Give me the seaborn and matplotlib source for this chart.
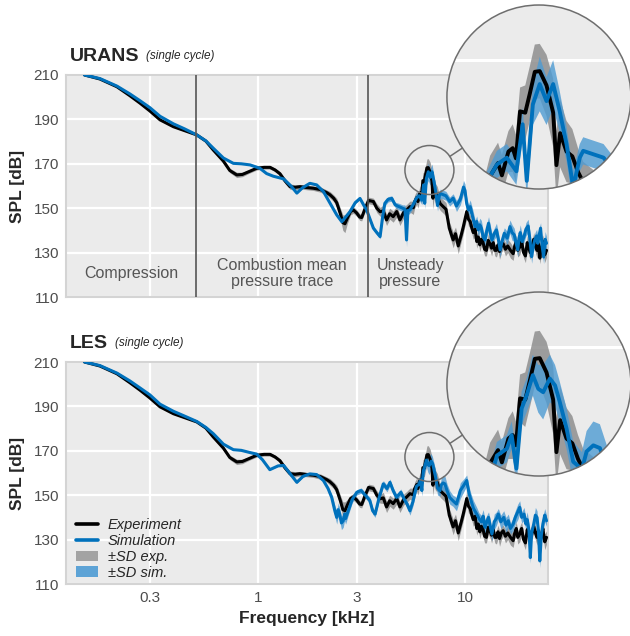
import matplotlib
matplotlib.use("Agg")
import numpy as np
import pandas as pd
import matplotlib.pyplot as plt
import seaborn as sns
from matplotlib.patches import Circle, Ellipse, Patch
from matplotlib.lines import Line2D
from matplotlib.ticker import NullLocator

# ---------------- data ----------------
X_TICKS = [0.3, 1, 3, 10]
X_TICK_LABELS = ["0.3", "1", "3", "10"]
Y_TICKS = [110, 130, 150, 170, 190, 210]

REGION_BOUNDS = [0.5, 3.4]          # kHz, vertical separators (URANS panel)
REGION_LABELS = ["Compression", "Combustion mean\npressure trace", "Unsteady\npressure"]

# Experiment (same measurement in both panels)
exp_freq = [
    0.145, 0.172, 0.208, 0.240, 0.269, 0.300, 0.336, 0.390, 0.440, 0.506,
    0.560, 0.608, 0.680, 0.730, 0.789, 0.840, 0.900, 0.986, 1.070, 1.143,
    1.210, 1.277, 1.350, 1.428, 1.510, 1.595, 1.720, 1.850, 2.000, 2.150,
    2.230, 2.320, 2.400, 2.500, 2.570, 2.630, 2.700, 2.800, 2.890, 3.000,
    3.100, 3.170, 3.280, 3.420, 3.610, 3.750, 3.890, 4.030, 4.180, 4.330,
    4.500, 4.680, 4.850, 5.050, 5.230, 5.420,
    5.630, 5.710, 5.850, 5.920, 6.040, 6.120, 6.180, 6.260, 6.360, 6.450,
    6.550, 6.650, 6.790, 6.930, 7.000, 7.080, 7.220, 7.350, 7.480, 7.600,
    7.860, 8.100, 8.400, 8.770, 9.000, 9.280, 9.600, 9.840, 10.20, 10.40,
    10.60, 10.80, 10.97, 11.20, 11.40, 11.60, 11.80, 12.00, 12.20, 12.45,
    12.70, 12.95, 13.20, 13.45, 13.70, 13.95, 14.20, 14.45, 14.70, 15.00,
    15.30, 15.70, 16.10, 16.60, 17.10, 17.40, 17.70, 18.00, 18.40, 18.80,
    19.20, 19.60, 20.00, 20.35, 20.70, 21.10, 21.50, 21.90, 22.30, 22.65,
    23.00, 23.40, 23.80, 24.30, 24.80,
]
exp_spl = [
    210.0, 208.2, 204.7, 200.7, 197.3, 193.8, 189.8, 186.7, 185.0, 183.0,
    180.2, 176.2, 171.2, 167.0, 165.0, 165.2, 166.4, 168.0, 168.4, 168.4,
    167.2, 165.5, 162.3, 159.7, 159.4, 159.7, 159.3, 159.0, 158.4, 157.0,
    156.0, 154.5, 152.5, 147.5, 143.5, 143.0, 145.5, 148.5, 149.2, 147.8,
    146.0, 145.8, 149.5, 153.5, 153.0, 150.0, 148.4, 148.8, 144.7, 147.5,
    146.2, 148.5, 144.7, 148.0, 149.2, 150.7,
    150.2, 152.9, 154.8, 153.0, 156.5, 157.0, 155.5, 162.4, 162.2, 165.0,
    168.2, 168.3, 166.2, 162.2, 154.5, 159.2, 156.5, 155.8, 153.5, 152.0,
    150.7, 149.5, 141.0, 135.7, 138.5, 133.0, 138.0, 142.0, 148.5, 145.0,
    144.0, 141.0, 139.0, 140.5, 135.0, 137.0, 133.5, 136.0, 135.0, 131.5,
    131.0, 135.5, 134.0, 132.0, 134.5, 131.0, 131.0, 133.5, 130.5, 133.0,
    134.0, 131.5, 133.0, 131.0, 129.5, 133.0, 135.0, 131.0, 132.5, 135.0,
    130.0, 128.5, 134.5, 132.0, 130.0, 133.0, 136.0, 133.0, 131.0, 134.0,
    127.5, 132.0, 135.0, 129.0, 131.0,
]
exp_sd = [
    0.3, 0.3, 0.3, 0.3, 0.3, 0.3, 0.3, 0.3, 0.3, 0.3,
    0.4, 0.5, 0.8, 1.0, 1.2, 1.0, 0.8, 0.8, 0.8, 0.8,
    0.8, 1.0, 1.2, 1.2, 1.2, 1.0, 1.0, 1.0, 1.2, 1.2,
    1.5, 1.5, 2.0, 2.5, 3.5, 4.0, 2.5, 1.5, 1.5, 1.5,
    1.5, 1.5, 1.5, 1.5, 1.5, 2.0, 2.0, 2.5, 2.5, 2.5,
    2.5, 2.5, 2.5, 2.5, 2.5, 2.5,
    3.0, 3.0, 3.0, 3.0, 3.0, 3.5, 3.5, 3.5, 4.0, 4.0,
    4.0, 4.0, 4.5, 5.0, 5.0, 5.0, 4.5, 4.0, 3.5, 3.0,
    3.0, 3.0, 3.0, 3.5, 3.0, 3.5, 3.0, 3.0, 3.0, 3.0,
    3.0, 2.5, 3.0, 3.5, 3.0, 2.5, 3.0, 3.0, 3.5, 3.0,
    2.5, 3.0, 3.0, 3.5, 3.0, 2.5, 3.0, 3.0, 3.5, 3.0,
    2.5, 3.0, 3.0, 3.5, 3.0, 2.5, 3.0, 3.0, 3.5, 3.0,
    2.5, 3.0, 3.0, 3.5, 3.0, 2.5, 3.0, 3.0, 3.5, 3.0,
    2.5, 3.0, 3.0, 3.5, 3.0,
]

# URANS simulation
urans_freq = [
    0.145, 0.172, 0.208, 0.240, 0.269, 0.300, 0.336, 0.390, 0.440, 0.506,
    0.560, 0.608, 0.680, 0.760, 0.830, 0.915, 1.020, 1.100, 1.186, 1.330,
    1.450, 1.540, 1.640, 1.780, 1.920, 2.070, 2.230, 2.400, 2.540, 2.650,
    2.780, 2.950, 3.110, 3.250, 3.350, 3.480, 3.610, 3.750, 3.890, 4.000,
    4.100, 4.250, 4.430, 4.600, 4.800, 5.000, 5.130, 5.220, 5.300, 5.420,
    5.650, 5.830, 6.010, 6.190, 6.310, 6.390, 6.510, 6.650, 6.790, 6.930,
    7.070, 7.220, 7.370, 7.520, 7.600, 7.840, 8.090,
    8.440, 8.770, 9.100, 9.500, 9.840, 10.00,
    10.20, 10.40, 10.60, 10.90, 11.20, 11.40, 11.60, 11.80, 12.00, 12.25,
    12.50, 12.75, 13.00, 13.25, 13.50, 13.85, 14.20, 14.50, 14.80, 15.10,
    15.50, 16.00, 16.50, 16.90, 17.30, 17.70, 18.00, 18.25, 18.50, 18.90,
    19.30, 19.70, 20.20, 20.60, 21.00, 21.40, 21.80, 22.20, 22.50, 22.85,
    23.20, 23.60, 24.00, 24.40, 24.80,
]
urans_spl = [
    210.0, 208.4, 205.0, 201.5, 198.4, 195.3, 191.4, 188.0, 185.8, 183.0,
    180.3, 177.0, 172.6, 170.2, 170.0, 169.5, 168.0, 165.6, 164.4, 163.2,
    159.8, 156.8, 159.2, 161.2, 160.5, 157.5, 152.2, 147.0, 143.9, 146.0,
    148.4, 152.5, 154.4, 151.2, 149.2, 145.0, 141.0, 139.0, 137.2, 146.0,
    152.2, 154.0, 154.4, 151.5, 150.7, 150.0, 149.5, 135.7, 149.0, 149.2,
    152.0, 154.6, 155.6, 153.6, 160.5, 152.2, 163.4, 166.4, 163.9, 166.4,
    162.4, 157.6, 151.2, 155.6, 156.6, 156.1, 155.6,
    153.0, 154.5, 151.0, 154.0, 159.5, 158.0,
    152.0, 149.2, 150.7, 146.0, 141.7, 144.0, 140.2, 142.5, 141.0, 137.0,
    135.7, 140.0, 143.2, 139.0, 135.7, 138.5, 140.2, 136.0, 131.2, 135.0,
    138.7, 136.5, 141.7, 139.0, 138.0, 134.0, 131.2, 136.5, 139.0, 135.0,
    137.2, 140.5, 142.0, 136.0, 128.2, 133.0, 136.0, 137.5, 134.2, 138.0,
    141.0, 133.0, 128.0, 136.0, 134.2,
]
urans_sd = [
    0.1, 0.1, 0.1, 0.1, 0.1, 0.1, 0.1, 0.1, 0.1, 0.1,
    0.1, 0.1, 0.1, 0.1, 0.1, 0.1, 0.1, 0.1, 0.1, 0.1,
    0.2, 0.2, 0.2, 0.2, 0.2, 0.3, 0.3, 0.4, 0.5, 0.5,
    0.5, 0.5, 0.5, 0.6, 0.6, 0.8, 1.0, 1.0, 1.0, 1.2,
    1.2, 1.2, 1.2, 1.2, 1.5, 1.5, 2.0, 3.0, 2.0, 1.5,
    1.5, 2.0, 2.0, 2.0, 2.5, 2.5, 3.0, 4.0, 3.5, 3.5,
    3.0, 2.5, 2.5, 2.0, 2.0, 2.0, 2.0,
    2.0, 2.0, 2.5, 2.5, 3.0, 3.0,
    3.0, 2.5, 3.0, 3.5, 3.0, 2.5, 3.0, 3.0, 3.5, 3.0,
    2.5, 3.0, 3.0, 3.5, 3.0, 2.5, 3.0, 3.0, 3.5, 3.0,
    2.5, 3.0, 3.0, 3.5, 3.0, 2.5, 3.0, 3.0, 3.5, 3.0,
    2.5, 3.0, 3.0, 3.5, 3.0, 2.5, 3.0, 3.0, 3.5, 3.0,
    2.5, 3.0, 3.0, 3.5, 3.0,
]

# LES simulation
les_freq = [
    0.145, 0.172, 0.208, 0.240, 0.269, 0.300, 0.336, 0.390, 0.440, 0.506,
    0.560, 0.608, 0.680, 0.760, 0.830, 0.915, 0.986, 1.050, 1.140, 1.250,
    1.330, 1.420, 1.540, 1.650, 1.780, 1.920, 2.070, 2.180, 2.270, 2.350,
    2.400, 2.440, 2.480, 2.530, 2.580, 2.620, 2.650, 2.730, 2.850, 3.000,
    3.150, 3.300, 3.470, 3.580, 3.680, 3.850, 4.030, 4.200, 4.340, 4.500,
    4.670, 4.900, 5.100, 5.250, 5.420, 5.600, 5.830, 6.010, 6.100, 6.190,
    6.290, 6.390, 6.510, 6.620, 6.720, 6.860, 6.970, 7.070, 7.220, 7.370,
    7.570, 7.680, 7.840, 8.000, 8.200,
    8.440, 8.750, 9.100, 9.500, 9.800, 10.20, 10.45, 10.70, 11.00, 11.40,
    11.70, 12.00, 12.25, 12.50, 12.75, 13.00, 13.25, 13.50, 13.85, 14.20,
    14.50, 14.90, 15.40, 15.80, 16.20, 16.60, 17.10, 17.50, 18.00, 18.40,
    18.80, 19.30, 19.70, 20.00, 20.40, 20.70, 21.00, 21.50, 21.90, 22.30,
    22.65, 23.00, 23.40, 23.80, 24.30, 24.80,
]
les_spl = [
    210.0, 208.4, 205.0, 201.5, 198.3, 195.2, 191.0, 187.8, 185.7, 183.2,
    180.5, 177.7, 173.0, 170.5, 170.2, 169.2, 168.5, 166.0, 161.5, 163.2,
    163.4, 160.0, 155.8, 158.5, 159.6, 159.3, 156.6, 153.0, 149.0, 143.0,
    140.0, 143.5, 141.5, 137.5, 138.5, 141.5, 139.5, 143.0, 148.0, 151.3,
    152.1, 150.0, 147.6, 143.0, 141.5, 149.0, 155.1, 153.0, 155.8, 152.0,
    149.0, 151.3, 148.0, 146.0, 143.0, 147.0, 154.0, 155.0, 157.0, 152.1,
    160.9, 162.9, 165.8, 163.8, 163.3, 165.3, 164.3, 161.9, 158.0, 153.1,
    152.0, 154.6, 155.5, 155.1, 152.0,
    149.0, 147.5, 146.0, 152.1, 154.0, 156.6, 151.0, 147.6, 144.0, 141.5,
    139.5, 138.0, 140.5, 135.5, 138.0, 140.0, 136.0, 132.5, 138.0, 139.5,
    141.5, 138.0, 140.0, 136.5, 138.5, 135.0, 137.0, 140.0, 142.5, 144.5,
    140.0, 141.5, 137.0, 139.0, 134.0, 121.9, 133.0, 137.0, 141.0, 140.0,
    134.0, 120.4, 132.0, 137.0, 141.0, 138.5,
]
les_sd = [
    0.2, 0.2, 0.2, 0.2, 0.2, 0.2, 0.2, 0.2, 0.2, 0.2,
    0.2, 0.2, 0.2, 0.2, 0.2, 0.2, 0.2, 0.2, 0.2, 0.2,
    0.3, 0.3, 0.4, 0.4, 0.4, 0.4, 0.5, 0.8, 1.5, 2.5,
    3.0, 3.0, 3.0, 3.0, 3.0, 3.0, 2.5, 2.0, 1.5, 1.2,
    1.2, 1.2, 1.5, 1.5, 1.5, 1.5, 1.5, 1.5, 1.5, 1.5,
    1.5, 1.5, 1.5, 1.5, 2.0, 2.0, 2.0, 2.0, 2.0, 2.5,
    2.5, 2.5, 3.0, 3.5, 4.0, 3.5, 3.0, 3.0, 3.0, 3.0,
    2.5, 3.0, 3.5, 3.5, 3.0,
    3.0, 2.5, 3.0, 3.5, 3.0, 2.5, 3.0, 3.0, 3.5, 3.0,
    2.5, 3.0, 3.0, 3.5, 3.0, 2.5, 3.0, 3.0, 3.5, 3.0,
    2.5, 3.0, 3.0, 3.5, 3.0, 2.5, 3.0, 3.0, 3.5, 3.0,
    2.5, 3.0, 3.0, 3.5, 3.0, 2.5, 3.0, 3.0, 3.5, 3.0,
    2.5, 3.0, 3.0, 3.5, 3.0, 2.5,
]

assert len(exp_freq) == len(exp_spl) == len(exp_sd)
assert len(urans_freq) == len(urans_spl) == len(urans_sd)
assert len(les_freq) == len(les_spl) == len(les_sd)

exp_df = pd.DataFrame({"freq": exp_freq, "spl": exp_spl, "sd": exp_sd})
urans_df = pd.DataFrame({"freq": urans_freq, "spl": urans_spl, "sd": urans_sd})
les_df = pd.DataFrame({"freq": les_freq, "spl": les_spl, "sd": les_sd})

# ---------------- style ----------------
BG = "#EBEBEB"
BLACK = "#000000"
BLUE = "#0071BC"
GRAY_BAND = "#8F8F8F"
BLUE_BAND = "#4E9BD3"
EDGE = "#6E6E6E"
TICK_COL = "#4D4D4D"

sns.set_theme(style="darkgrid", rc={
    "axes.facecolor": BG,
    "grid.color": "white",
    "axes.edgecolor": "#D4D4D4",
})
plt.rcParams["font.family"] = ["Liberation Sans", "DejaVu Sans"]

W, H = 630, 636
fig = plt.figure(figsize=(W / 100, H / 100), dpi=100)
fig.patch.set_facecolor("white")

ax_top = fig.add_axes([66 / W, 1 - 297 / H, 482 / W, 222 / H])
ax_bot = fig.add_axes([66 / W, 1 - 584 / H, 482 / W, 222 / H])

XLIM = (0.118, 25.2)
YLIM = (110, 210)


def draw_series(ax, sim_df, lw):
    ax.fill_between(exp_df["freq"], exp_df["spl"] - exp_df["sd"], exp_df["spl"] + exp_df["sd"],
                    color=GRAY_BAND, lw=0, alpha=0.85, zorder=2)
    ax.fill_between(sim_df["freq"], sim_df["spl"] - sim_df["sd"], sim_df["spl"] + sim_df["sd"],
                    color=BLUE_BAND, lw=0, alpha=0.8, zorder=3)
    sns.lineplot(data=exp_df, x="freq", y="spl", ax=ax, color=BLACK, lw=lw,
                 estimator=None, sort=False, zorder=4)
    sns.lineplot(data=sim_df, x="freq", y="spl", ax=ax, color=BLUE, lw=lw,
                 estimator=None, sort=False, zorder=5)


for ax, sim in ((ax_top, urans_df), (ax_bot, les_df)):
    ax.set_xscale("log")
    draw_series(ax, sim, 2.2)
    ax.set_xlim(*XLIM)
    ax.set_ylim(*YLIM)
    ax.set_yticks(Y_TICKS)
    ax.set_xticks(X_TICKS)
    ax.xaxis.set_minor_locator(NullLocator())
    ax.set_xticklabels(X_TICK_LABELS)
    ax.tick_params(length=0, labelsize=11, labelcolor=TICK_COL, pad=5)
    ax.grid(True, color="white", lw=1.6)
    ax.set_ylabel("SPL [dB]", fontsize=12.5, fontweight="bold", labelpad=6)
    ax.set_xlabel("")
    for s in ax.spines.values():
        s.set_visible(True)
        s.set_color("#D4D4D4")
        s.set_linewidth(1.5)

ax_top.set_xticklabels([])
ax_bot.set_xlabel("Frequency [kHz]", fontsize=12.5, fontweight="bold", labelpad=4)

# titles
for ax, name in ((ax_top, "URANS"), (ax_bot, "LES")):
    t = ax.text(0.008, 1.045, name, transform=ax.transAxes, fontsize=14,
                fontweight="bold", ha="left", va="bottom")
    ax.annotate("(single cycle)", xy=(1, 0), xycoords=t, xytext=(5, 2.5),
                textcoords="offset points", fontsize=8.5, style="italic",
                ha="left", va="bottom")

# region separators and labels (URANS panel)
for b in REGION_BOUNDS:
    ax_top.axvline(b, color="#555555", lw=1.2, zorder=6)
centers = [np.sqrt(XLIM[0] * REGION_BOUNDS[0]), np.sqrt(REGION_BOUNDS[0] * REGION_BOUNDS[1])]
ax_top.text(centers[0], 120.5, REGION_LABELS[0], ha="center", va="center",
            fontsize=11.5, color="#555555", zorder=7)
ax_top.text(centers[1], 120.5, REGION_LABELS[1], ha="center", va="center",
            fontsize=11.5, color="#555555", linespacing=1.1, zorder=7)
ax_top.text(REGION_BOUNDS[1] * 1.1, 120.5, REGION_LABELS[2], ha="left", va="center",
            multialignment="center", fontsize=11.5, color="#555555", linespacing=1.1, zorder=7)

# legend
handles = [
    Line2D([0], [0], color=BLACK, lw=2.6),
    Line2D([0], [0], color=BLUE, lw=2.6),
    Patch(facecolor="#A3A3A3", edgecolor="none"),
    Patch(facecolor="#5DA3D6", edgecolor="none"),
]
ax_bot.legend(handles, ["Experiment", "Simulation", "\u00b1SD exp.", "\u00b1SD sim."],
              loc="lower left", bbox_to_anchor=(0.02, 0.02), frameon=False,
              prop={"style": "italic", "size": 10.5, "family": ["Liberation Sans", "DejaVu Sans"]},
              handlelength=1.5, handletextpad=0.7, labelspacing=0.12,
              borderaxespad=0, borderpad=0)

# ---------------- zoom insets ----------------
SMALL_CENTER_AX = (0.754, 0.572)   # small circle centre, axes fraction
SMALL_R = 24.5                     # px
BIG_OFFSET = (109.5, 73.0)         # px from small to big circle centre
BIG_R = 92.0                       # px
INSET_XLIM = (5.0, 8.8)
INSET_YLIM = (151, 178)


def add_zoom(ax, sim_df):
    sx, sy = ax.transAxes.transform(SMALL_CENTER_AX)
    bx, by = sx + BIG_OFFSET[0], sy + BIG_OFFSET[1]
    fig.add_artist(Ellipse((sx / W, sy / H), 2 * SMALL_R / W, 2 * SMALL_R / H,
                           transform=fig.transFigure, fill=False, edgecolor=EDGE,
                           lw=1.1, zorder=20))
    d = np.array(BIG_OFFSET) / np.hypot(*BIG_OFFSET)
    p0 = np.array([sx, sy]) + SMALL_R * d
    p1 = np.array([bx, by]) - BIG_R * d
    fig.add_artist(Line2D([p0[0] / W, p1[0] / W], [p0[1] / H, p1[1] / H],
                          transform=fig.transFigure, color=EDGE, lw=1.1, zorder=20))
    ins = fig.add_axes([(bx - BIG_R) / W, (by - BIG_R) / H, 2 * BIG_R / W, 2 * BIG_R / H])
    ins.set_xscale("log")
    ins.set_axis_off()
    ins.add_patch(Circle((0.5, 0.5), 0.5, transform=ins.transAxes, facecolor=BG,
                         edgecolor="none", zorder=0))
    for y in Y_TICKS:
        ins.axhline(y, color="white", lw=2.2, zorder=1)
    for x in X_TICKS:
        ins.axvline(x, color="white", lw=2.2, zorder=1)
    draw_series(ins, sim_df, 2.8)
    clip = Circle((0.5, 0.5), 0.5, transform=ins.transAxes)
    for art in ins.lines + ins.collections:
        art.set_clip_path(clip)
    ins.add_patch(Circle((0.5, 0.5), 0.5, transform=ins.transAxes, fill=False,
                         edgecolor=EDGE, lw=1.1, zorder=30, clip_on=False))
    ins.set_xlim(*INSET_XLIM)
    ins.set_ylim(*INSET_YLIM)
    return ins


add_zoom(ax_top, urans_df)
add_zoom(ax_bot, les_df)

fig.savefig("out.png", dpi=100, facecolor="white")
